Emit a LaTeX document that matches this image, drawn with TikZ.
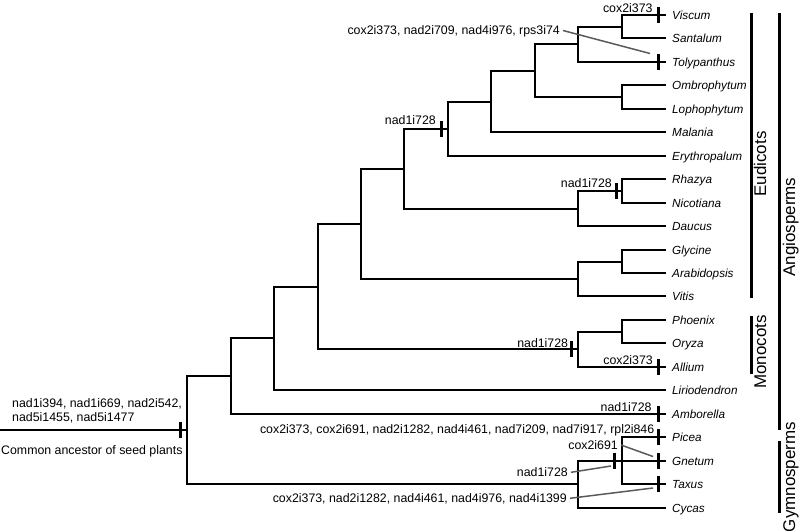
\documentclass[tikz,border=0pt]{standalone}
\usepackage{fontspec}
\setmainfont{Liberation Sans}
\usetikzlibrary{calc}
\definecolor{leadgray}{RGB}{90,90,90}
\begin{document}
\begin{tikzpicture}[x=1bp,y=-1bp,
 branch/.style={line width=2bp},
 leaf/.style={anchor=west, inner xsep=6bp, inner ysep=0pt, text height=8.4pt, text depth=0pt, font=\fontsize{11.8}{13}\selectfont\itshape},
 ann/.style={anchor=east, inner xsep=3bp, inner ysep=0pt, text height=8.9pt, text depth=0pt, font=\fontsize{12.4}{14}\selectfont},
 annl/.style={anchor=west, inner xsep=0pt, inner ysep=0pt, text height=8.9pt, text depth=0pt, font=\fontsize{12.4}{14}\selectfont},
 tickbar/.style={fill=black, draw=none, minimum width=3bp, minimum height=16bp, inner sep=0pt},
 leader/.style={line width=1.5bp, draw=leadgray},
 bar/.style={line width=3bp},
 grp/.style={rotate=90, anchor=base, inner sep=0pt, font=\fontsize{17}{19}\selectfont}]
\useasboundingbox (0,0) rectangle (800,531);
% leaves
\node[leaf] (viscum) at (666,15) {Viscum};
\node[leaf] (santalum) at (666,38) {Santalum};
\node[leaf] (toly) at (666,62) {Tolypanthus};
\node[leaf] (ombro) at (666,85) {Ombrophytum};
\node[leaf] (lopho) at (666,109) {Lophophytum};
\node[leaf] (malania) at (666,132) {Malania};
\node[leaf] (erythro) at (666,156) {Erythropalum};
\node[leaf] (rhazya) at (666,179) {Rhazya};
\node[leaf] (nicotiana) at (666,203) {Nicotiana};
\node[leaf] (daucus) at (666,226) {Daucus};
\node[leaf] (glycine) at (666,250) {Glycine};
\node[leaf] (arabid) at (666,273) {Arabidopsis};
\node[leaf] (vitis) at (666,296) {Vitis};
\node[leaf] (phoenix) at (666,320) {Phoenix};
\node[leaf] (oryza) at (666,343) {Oryza};
\node[leaf] (allium) at (666,367) {Allium};
\node[leaf] (lirio) at (666,390) {Liriodendron};
\node[leaf] (ambo) at (666,414) {Amborella};
\node[leaf] (picea) at (666,437) {Picea};
\node[leaf] (gnetum) at (666,461) {Gnetum};
\node[leaf] (taxus) at (666,484) {Taxus};
\node[leaf] (cycas) at (666,508) {Cycas};
% internal nodes
\coordinate (vs) at (622,27);
\coordinate (vst) at (578,44);
\coordinate (ol) at (622,97);
\coordinate (na) at (535,71);
\coordinate (nb) at (491,102);
\coordinate (nc) at (448,129);
\coordinate (rn) at (622,191);
\coordinate (rnd) at (578,209);
\coordinate (nd) at (404,169);
\coordinate (ga) at (622,262);
\coordinate (gav) at (578,279);
\coordinate (ne) at (361,224);
\coordinate (po) at (622,332);
\coordinate (mon) at (578,349);
\coordinate (nf) at (318,287);
\coordinate (ng) at (274,338);
\coordinate (nh) at (231,376);
\coordinate (gp) at (622,461);
\coordinate (gym) at (578,484);
\coordinate (root) at (187,430);
\coordinate (origin) at (0,430);
% branches
\draw[branch] (vs) |- (viscum.west);
\draw[branch] (vs) |- (santalum.west);
\draw[branch] (vst) |- (vs);
\draw[branch] (vst) |- (toly.west);
\draw[branch] (ol) |- (ombro.west);
\draw[branch] (ol) |- (lopho.west);
\draw[branch] (na) |- (vst);
\draw[branch] (na) |- (ol);
\draw[branch] (nb) |- (na);
\draw[branch] (nb) |- (malania.west);
\draw[branch] (nc) |- (nb);
\draw[branch] (nc) |- (erythro.west);
\draw[branch] (rn) |- (rhazya.west);
\draw[branch] (rn) |- (nicotiana.west);
\draw[branch] (rnd) |- (rn);
\draw[branch] (rnd) |- (daucus.west);
\draw[branch] (nd) |- (nc);
\draw[branch] (nd) |- (rnd);
\draw[branch] (ga) |- (glycine.west);
\draw[branch] (ga) |- (arabid.west);
\draw[branch] (gav) |- (ga);
\draw[branch] (gav) |- (vitis.west);
\draw[branch] (ne) |- (nd);
\draw[branch] (ne) |- (gav);
\draw[branch] (po) |- (phoenix.west);
\draw[branch] (po) |- (oryza.west);
\draw[branch] (mon) |- (po);
\draw[branch] (mon) |- (allium.west);
\draw[branch] (nf) |- (ne);
\draw[branch] (nf) |- (mon);
\draw[branch] (ng) |- (nf);
\draw[branch] (ng) |- (lirio.west);
\draw[branch] (nh) |- (ng);
\draw[branch] (nh) |- (ambo.west);
\draw[branch] (gp) |- (picea.west);
\draw[branch] (gp) -- (gnetum.west);
\draw[branch] (gp) |- (taxus.west);
\draw[branch] (gym) |- (gp);
\draw[branch] (gym) |- (cycas.west);
\draw[branch] (root) |- (nh);
\draw[branch] (root) |- (gym);
\draw[branch] (origin) -- (root);
% marks
\node[tickbar] (mviscum) at (658.5,15) {};
\node[tickbar] (mtoly) at (658.5,62) {};
\node[tickbar] (mc) at (441.5,129) {};
\node[tickbar] (mrn) at (616.5,191) {};
\node[tickbar] (mmon) at (571.5,349) {};
\node[tickbar] (mallium) at (658.5,367) {};
\node[tickbar] (mambo) at (658.5,414) {};
\node[tickbar] (mpicea) at (658.5,437) {};
\node[tickbar] (mgnetum) at (658.5,461) {};
\node[tickbar] (mgym) at (614.5,461) {};
\node[tickbar] (mtaxus) at (658.5,484) {};
\node[tickbar] (mroot) at (180.5,430) {};
% annotations
\node[ann] (aviscum) at (655.7,8.3) {cox2i373};
\node[ann] (atoly) at (563,30.5) {cox2i373, nad2i709, nad4i976, rps3i74};
\node[ann] (ac) at (439,120) {nad1i728};
\node[ann] (arn) at (615,183.5) {nad1i728};
\node[ann] (amon) at (571.3,342.7) {nad1i728};
\node[ann] (aallium) at (656,360) {cox2i373};
\node[ann] (aambo) at (654.7,407.3) {nad1i728};
\node[ann] (abig) at (657.5,429.5) {cox2i373, cox2i691, nad2i1282, nad4i461, nad7i209, nad7i917, rpl2i846};
\node[ann] (acox) at (621,445) {cox2i691};
\node[ann] (agym) at (571,472.3) {nad1i728};
\node[ann] (abot) at (570,498.3) {cox2i373, nad2i1282, nad4i461, nad4i976, nad4i1399};
\node[annl] (aroot1) at (12,403.3) {nad1i394, nad1i669, nad2i542,};
\node[annl] (aroot2) at (12,416.7) {nad5i1455, nad5i1477};
\node[annl] (aroot3) at (1,450) {Common ancestor of seed plants};
% leaders
\coordinate (ltoly) at (650,53.5);
\coordinate (lgnetum) at (653,456.5);
\coordinate (lgym) at (611,466);
\coordinate (ltaxus) at (653,488);
\draw[leader] (atoly.east) -- (ltoly);
\draw[leader] (acox.east) -- (lgnetum);
\draw[leader] (agym.east) -- (lgym);
\draw[leader] (abot.east) -- (ltaxus);
% group bars and labels
\draw[bar] (751.5,13) -- (751.5,298);
\draw[bar] (751.5,316) -- (751.5,374);
\draw[bar] (779.5,13) -- (779.5,430);
\draw[bar] (779.5,441) -- (779.5,513);
\node[grp] (eud) at (766,164) {Eudicots};
\node[grp] (mono) at (766,352) {Monocots};
\node[grp] (angio) at (795,227) {Angiosperms};
\node[grp] (gymno) at (795,477) {Gymnosperms};
\end{tikzpicture}
\end{document}
